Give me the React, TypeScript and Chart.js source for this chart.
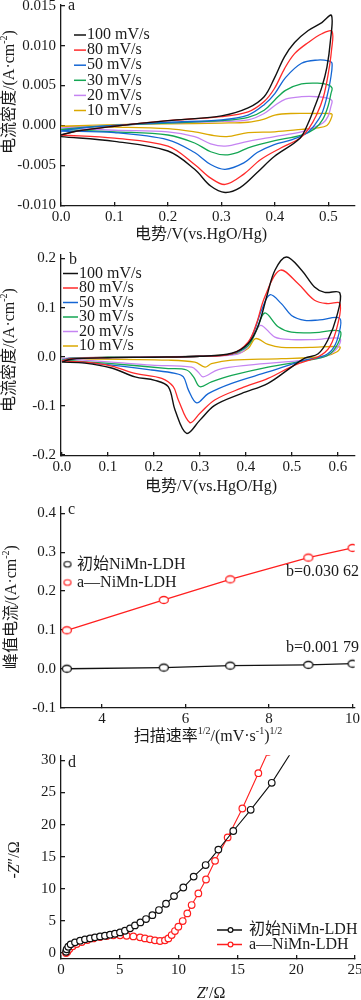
import React, { useEffect, useRef } from "react";
import { Chart, registerables } from "chart.js";
Chart.register(...registerables);

const FONT = '"Liberation Serif", "Times New Roman", "Noto Sans CJK SC", serif';
const INK = "#1a1a1a";

// ---------- Panel a : CV, initial NiMn-LDH ----------
const scanLabels = ["100 mV/s", "80 mV/s", "50 mV/s", "30 mV/s", "20 mV/s", "10 mV/s"];
const cvColors = ["#111111", "#ff2a2a", "#1466d4", "#14a653", "#c584f2", "#dba800"];

const cvA100 = [[0,-0.0012],[0.03,-0.0007],[0.1,-0.0001],[0.2,0.0006],[0.3,0.0012],[0.35,0.0022],[0.38,0.0036],[0.399,0.0059],[0.418,0.0086],[0.437,0.0104],[0.4625,0.0119],[0.488,0.0129],[0.506,0.0138],
  [0.504,0.0106],[0.4975,0.0073],[0.488,0.0048],[0.475,0.0024],[0.4625,0.0003],[0.447,-0.0016],[0.399,-0.0039],[0.367,-0.0059],[0.335,-0.0078],[0.307,-0.0084],[0.28,-0.0076],[0.25,-0.0055],[0.2,-0.0032],[0.1,-0.002],[0,-0.0014]];
const cvA80 = [[0,-0.0012],[0.03,-0.0007],[0.1,-0.0001],[0.2,0.0006],[0.3,0.0011],[0.35,0.0017],[0.38,0.003],[0.399,0.0046],[0.418,0.0071],[0.437,0.009],[0.4625,0.0104],[0.488,0.0115],[0.507,0.0118],
  [0.506,0.0094],[0.5,0.0065],[0.491,0.0036],[0.478,0.0013],[0.4625,-0.0005],[0.447,-0.0016],[0.412,-0.0028],[0.373,-0.0043],[0.342,-0.0061],[0.307,-0.0074],[0.28,-0.0066],[0.25,-0.0049],[0.2,-0.0026],[0.1,-0.0016],[0,-0.0012]];
const cvA50 = [[0,-0.0007],[0.03,-0.0004],[0.1,0.0],[0.2,0.0004],[0.3,0.0007],[0.35,0.0013],[0.38,0.0026],[0.4,0.004],[0.42,0.006],[0.45,0.0078],[0.48,0.0082],[0.5,0.0081],[0.507,0.0078],
  [0.504,0.0057],[0.4975,0.0036],[0.488,0.0015],[0.475,0.0001],[0.459,-0.001],[0.431,-0.0018],[0.399,-0.0024],[0.367,-0.0034],[0.342,-0.0047],[0.307,-0.0055],[0.28,-0.0049],[0.25,-0.0034],[0.2,-0.0018],[0.1,-0.0009],[0,-0.0007]];
const cvA30 = [[0,-0.0005],[0.03,-0.0003],[0.1,0.0],[0.2,0.0003],[0.3,0.0006],[0.35,0.001],[0.38,0.0019],[0.4,0.0032],[0.42,0.0044],[0.45,0.0052],[0.48,0.0053],[0.5,0.0051],[0.507,0.0047],
  [0.505,0.004],[0.5,0.0025],[0.49,0.0008],[0.475,-0.0004],[0.45,-0.0012],[0.4,-0.0019],[0.35,-0.0028],[0.33,-0.0034],[0.307,-0.0037],[0.28,-0.0033],[0.25,-0.0022],[0.2,-0.0012],[0.1,-0.0008],[0,-0.0005]];
const cvA20 = [[0,-0.0003],[0.1,0.0],[0.2,0.0003],[0.3,0.0005],[0.35,0.0007],[0.38,0.0015],[0.4,0.0025],[0.42,0.0033],[0.45,0.0036],[0.48,0.0036],[0.5,0.0034],[0.507,0.0031],
  [0.505,0.0024],[0.5,0.0012],[0.49,0.0003],[0.47,-0.0003],[0.45,-0.0008],[0.4,-0.0014],[0.35,-0.002],[0.307,-0.0026],[0.28,-0.0023],[0.25,-0.0014],[0.2,-0.0008],[0.1,-0.0006],[0,-0.0003]];
const cvA10 = [[0,-0.0001],[0.1,0.0001],[0.2,0.0002],[0.3,0.0003],[0.35,0.0004],[0.38,0.0008],[0.4,0.0013],[0.43,0.0015],[0.48,0.0015],[0.5,0.0015],[0.507,0.0014],
  [0.505,0.0008],[0.4975,0.0],[0.48,-0.0003],[0.45,-0.0005],[0.4,-0.0008],[0.35,-0.0009],[0.31,-0.0014],[0.28,-0.0012],[0.25,-0.0008],[0.2,-0.0004],[0.1,-0.0002],[0,-0.0001]];

// ---------- Panel b : CV, a-NiMn-LDH ----------
const cvB100 = [[0,-0.011],[0.02,-0.005],[0.1,-0.002],[0.2,-0.001],[0.3,0.001],[0.369,0.007],[0.405,0.027],[0.427,0.064],[0.445,0.122],[0.463,0.176],[0.488,0.203],[0.521,0.176],[0.549,0.142],[0.571,0.131],[0.604,0.13],
  [0.597,0.081],[0.578,0.034],[0.557,0.006],[0.528,-0.003],[0.499,-0.021],[0.448,-0.054],[0.39,-0.075],[0.332,-0.099],[0.3,-0.129],[0.271,-0.156],[0.246,-0.109],[0.231,-0.061],[0.202,-0.048],[0.159,-0.041],[0.108,-0.023],[0.05,-0.013],[0,-0.011]];
const cvB80 = [[0,-0.009],[0.02,-0.004],[0.1,-0.002],[0.2,-0.001],[0.3,0.001],[0.369,0.006],[0.405,0.03],[0.423,0.068],[0.441,0.122],[0.474,0.176],[0.513,0.149],[0.549,0.115],[0.578,0.108],[0.604,0.109],
  [0.6,0.068],[0.582,0.02],[0.557,0.0],[0.506,-0.017],[0.448,-0.044],[0.39,-0.064],[0.332,-0.088],[0.3,-0.115],[0.278,-0.134],[0.253,-0.088],[0.242,-0.061],[0.217,-0.044],[0.159,-0.034],[0.108,-0.019],[0.05,-0.011],[0,-0.009]];
const cvB50 = [[0,-0.008],[0.02,-0.004],[0.1,-0.002],[0.2,-0.001],[0.3,0.001],[0.37,0.006],[0.398,0.02],[0.416,0.048],[0.434,0.095],[0.452,0.126],[0.477,0.108],[0.499,0.084],[0.528,0.074],[0.56,0.075],[0.604,0.078],
  [0.6,0.04],[0.586,0.013],[0.564,0.0],[0.528,-0.007],[0.448,-0.031],[0.369,-0.054],[0.318,-0.075],[0.293,-0.094],[0.275,-0.068],[0.264,-0.041],[0.246,-0.034],[0.195,-0.027],[0.108,-0.017],[0,-0.008]];
const cvB30 = [[0,-0.007],[0.02,-0.003],[0.1,-0.001],[0.2,-0.001],[0.3,0.001],[0.37,0.006],[0.405,0.023],[0.423,0.054],[0.441,0.089],[0.47,0.061],[0.499,0.05],[0.55,0.049],[0.604,0.052],
  [0.6,0.027],[0.578,0.003],[0.535,-0.007],[0.448,-0.021],[0.369,-0.038],[0.325,-0.051],[0.3,-0.061],[0.286,-0.041],[0.271,-0.027],[0.231,-0.024],[0.108,-0.014],[0,-0.007]];
const cvB20 = [[0,-0.004],[0.02,-0.002],[0.1,-0.001],[0.2,0.0],[0.3,0.001],[0.38,0.005],[0.401,0.017],[0.416,0.04],[0.432,0.064],[0.463,0.04],[0.499,0.035],[0.55,0.035],[0.604,0.037],
  [0.598,0.017],[0.571,0.0],[0.528,-0.007],[0.405,-0.017],[0.34,-0.026],[0.307,-0.041],[0.296,-0.031],[0.282,-0.021],[0.195,-0.017],[0.108,-0.011],[0,-0.004]];
const cvB10 = [[0,-0.004],[0.1,-0.001],[0.2,0.0],[0.3,0.001],[0.383,0.007],[0.405,0.017],[0.421,0.037],[0.448,0.025],[0.477,0.019],[0.54,0.019],[0.604,0.02],
  [0.598,0.01],[0.571,0.001],[0.477,-0.004],[0.369,-0.007],[0.325,-0.014],[0.311,-0.021],[0.289,-0.011],[0.231,-0.007],[0,-0.004]];

// ---------- Panel c : peak current vs sqrt(scan rate) ----------
const sqrtRate = [3.16, 5.48, 7.07, 8.94, 10.0];
const peakInitial = [0.0, 0.003, 0.008, 0.010, 0.013];
const peakTreated = [0.099, 0.177, 0.230, 0.286, 0.311];
const seriesNames = ["初始NiMn-LDH", "a—NiMn-LDH"];
const slopeLabels = ["b=0.030 62", "b=0.001 79"];

// ---------- Panel d : Nyquist ----------
const zReInitial = [0.43,0.48,0.62,0.82,1.19,1.62,2.04,2.47,2.89,3.32,3.74,4.17,4.59,5.02,5.44,5.87,6.29,6.75,7.23,7.77,8.33,8.93,9.61,10.4,11.28,12.3,13.38,14.65,16.13,17.92,19.7];
const zImInitial = [0.2,0.57,0.98,1.35,1.66,1.92,2.13,2.28,2.44,2.59,2.69,2.85,3.0,3.21,3.47,3.84,4.3,4.77,5.29,5.9,6.69,7.67,8.86,10.2,11.9,13.7,16.1,19.0,22.3,26.5,31.6];
const zReTreated = [0.43,0.54,0.71,0.99,1.33,1.76,2.24,2.75,3.32,3.89,4.45,5.02,5.58,6.15,6.72,7.14,7.57,7.99,8.42,8.84,9.13,9.41,9.69,9.98,10.35,10.74,11.11,11.68,12.33,13.1,14.17,15.42,16.78,17.6];
const zImTreated = [0.0,0.2,0.62,1.04,1.4,1.71,2.02,2.28,2.49,2.64,2.75,2.75,2.69,2.59,2.44,2.28,2.13,1.97,1.87,1.97,2.28,2.8,3.42,4.1,4.98,6.17,7.47,9.28,11.45,14.35,18.0,22.5,28.0,31.3];

// ---------- ticks ----------
const ticksAx = [0, 0.1, 0.2, 0.3, 0.4, 0.5];
const ticksAy = [-0.01, -0.005, 0, 0.005, 0.01, 0.015];
const ticksBx = [0, 0.1, 0.2, 0.3, 0.4, 0.5, 0.6];
const ticksBy = [-0.2, -0.1, 0, 0.1, 0.2];
const ticksCx = [4, 6, 8, 10];
const ticksCy = [-0.1, 0, 0.1, 0.2, 0.3, 0.4];
const ticksDx = [0, 5, 10, 15, 20, 25];
const ticksDy = [0, 5, 10, 15, 20, 25, 30];

type Seg = { t: string; sup?: boolean; it?: boolean };

function segFont(s: Seg, size: number) {
  return `${s.it ? "italic " : ""}${s.sup ? Math.round(size * 0.6) : size}px ${FONT}`;
}

function drawRich(ctx: CanvasRenderingContext2D, segs: Seg[], x: number, y: number, size: number,
  align: "left" | "center" | "right" = "center", rotate = false, color = INK) {
  ctx.save();
  ctx.fillStyle = color;
  ctx.textBaseline = "middle";
  ctx.textAlign = "left";
  const widths = segs.map((s) => { ctx.font = segFont(s, size); return ctx.measureText(s.t).width; });
  const total = widths.reduce((a, b) => a + b, 0);
  ctx.translate(x, y);
  if (rotate) ctx.rotate(-Math.PI / 2);
  let cx = align === "center" ? -total / 2 : align === "right" ? -total : 0;
  segs.forEach((s, i) => {
    ctx.font = segFont(s, size);
    ctx.fillText(s.t, cx, s.sup ? -size * 0.33 : 0);
    cx += widths[i];
  });
  ctx.restore();
}

function ellipseStyle(w: number, h: number, color: string, lw: number) {
  const c = document.createElement("canvas");
  c.width = Math.ceil(w + lw * 2 + 2);
  c.height = Math.ceil(h + lw * 2 + 2);
  const g = c.getContext("2d")!;
  g.beginPath();
  g.ellipse(c.width / 2, c.height / 2, w / 2, h / 2, 0, 0, Math.PI * 2);
  g.fillStyle = "#ffffff";
  g.fill();
  g.lineWidth = lw;
  g.strokeStyle = color;
  g.stroke();
  return c;
}

function axis(pos: "x" | "y", min: number, max: number, ticks: number[], dec: number, size: number) {
  return {
    type: "linear",
    position: pos === "x" ? "bottom" : "left",
    min,
    max,
    border: { display: true, color: INK, width: 1.3 },
    grid: { drawOnChartArea: false, drawTicks: true, tickLength: -4, color: INK, lineWidth: 1.3 },
    ticks: {
      color: INK,
      font: { family: FONT, size: 15 },
      padding: pos === "x" ? 6 : 9,
      autoSkip: false,
      maxRotation: 0,
      callback: (v: any) => Number(v).toFixed(dec),
    },
    afterBuildTicks: (s: any) => { s.ticks = ticks.map((v) => ({ value: v })); },
    afterFit: (s: any) => {
      if (pos === "x") s.height = size; else s.width = size;
      s.paddingTop = 0; s.paddingBottom = 0; s.paddingLeft = 0; s.paddingRight = 0;
    },
  };
}

const toPts = (arr: number[][]) => arr.map(([x, y]) => ({ x, y }));
const zip = (xs: number[], ys: number[]) => xs.map((x, i) => ({ x, y: ys[i] }));

function baseOptions(scales: any) {
  return {
    animation: false,
    responsive: false,
    devicePixelRatio: 1,
    events: [],
    layout: { padding: { top: 5, right: 6, left: 0, bottom: 0 } },
    plugins: { legend: { display: false }, tooltip: { enabled: false } },
    scales,
  };
}

const PANELS = [
  { top: 0, height: 248 },
  { top: 250, height: 250 },
  { top: 500, height: 250 },
  { top: 750, height: 250 },
];

export default function App() {
  const r0 = useRef<HTMLCanvasElement>(null);
  const r1 = useRef<HTMLCanvasElement>(null);
  const r2 = useRef<HTMLCanvasElement>(null);
  const r3 = useRef<HTMLCanvasElement>(null);

  useEffect(() => {
    const charts: Chart[] = [];
    const cvDataset = (label: string, data: number[][], color: string, i: number) => ({
      label,
      data: toPts(data),
      borderColor: color,
      backgroundColor: color,
      borderWidth: i === 0 ? 1.4 : 1.3,
      pointRadius: 0,
      showLine: true,
      tension: 0.35,
    });

    const cvLegend = (ctx: CanvasRenderingContext2D, chart: any, x0: number, x1: number, xt: number, y0: number, dy: number) => {
      chart.data.datasets.forEach((d: any, i: number) => {
        const y = y0 + i * dy;
        ctx.save();
        ctx.strokeStyle = d.borderColor;
        ctx.lineWidth = 1.5;
        ctx.beginPath(); ctx.moveTo(x0, y); ctx.lineTo(x1, y); ctx.stroke();
        ctx.restore();
        drawRich(ctx, [{ t: d.label }], xt, y, 16, "left");
      });
    };

    // Panel a
    const dataA = [cvA100, cvA80, cvA50, cvA30, cvA20, cvA10];
    charts.push(new Chart(r0.current!, {
      type: "scatter",
      data: { datasets: dataA.map((d, i) => cvDataset(scanLabels[i], d, cvColors[i], i)) },
      options: baseOptions({
        x: axis("x", 0, 0.55, ticksAx, 1, 42),
        y: axis("y", -0.0101, 0.0151, ticksAy, 3, 61),
      }) as any,
      plugins: [{
        id: "ovA",
        afterDraw(chart: any) {
          const ctx = chart.ctx; const T = PANELS[0].top;
          drawRich(ctx, [{ t: "a" }], 68, 6 - T, 16, "left");
          cvLegend(ctx, chart, 74, 86, 87, 35 - T, 15.1);
          drawRich(ctx, [{ t: "电势/V(vs.HgO/Hg)" }], 201, 235 - T, 16);
          drawRich(ctx, [{ t: "电流密度/(A·cm" }, { t: "-2", sup: true }, { t: ")" }], 10, 92 - T, 16, "center", true);
        },
      }],
    }));

    // Panel b
    const dataB = [cvB100, cvB80, cvB50, cvB30, cvB20, cvB10];
    charts.push(new Chart(r1.current!, {
      type: "scatter",
      data: { datasets: dataB.map((d, i) => cvDataset(scanLabels[i], d, cvColors[i], i)) },
      options: baseOptions({
        x: axis("x", -0.002, 0.637, ticksBx, 1, 44),
        y: axis("y", -0.202, 0.207, ticksBy, 1, 61),
      }) as any,
      plugins: [{
        id: "ovB",
        afterDraw(chart: any) {
          const ctx = chart.ctx; const T = PANELS[1].top;
          drawRich(ctx, [{ t: "b" }], 69, 260 - T, 16, "left");
          cvLegend(ctx, chart, 63, 78, 79, 273.5 - T, 14.5);
          drawRich(ctx, [{ t: "电势/V(vs.HgO/Hg)" }], 211, 487 - T, 16);
          drawRich(ctx, [{ t: "电流密度/(A·cm" }, { t: "-2", sup: true }, { t: ")" }], 10, 350 - T, 16, "center", true);
        },
      }],
    }));

    // Panel c
    const ellBlack = ellipseStyle(9, 7, "#111111", 1.3);
    const ellRed = ellipseStyle(9, 7, "#ff1f1f", 1.3);
    const ellBlackS = ellipseStyle(7, 5.5, "#111111", 1.2);
    const ellRedS = ellipseStyle(7, 5.5, "#ff1f1f", 1.2);
    charts.push(new Chart(r2.current!, {
      type: "scatter",
      data: {
        datasets: [
          { label: seriesNames[0], data: zip(sqrtRate, peakInitial), borderColor: "#111111", backgroundColor: "#fff",
            borderWidth: 1.3, showLine: true, pointStyle: ellBlack as any, pointRadius: 5, tension: 0 },
          { label: seriesNames[1], data: zip(sqrtRate, peakTreated), borderColor: "#ff1f1f", backgroundColor: "#fff",
            borderWidth: 1.3, showLine: true, pointStyle: ellRed as any, pointRadius: 5, tension: 0 },
        ],
      },
      options: baseOptions({
        x: axis("x", 3.02, 10.05, ticksCx, 0, 42),
        y: axis("y", -0.101, 0.418, ticksCy, 1, 61),
      }) as any,
      plugins: [{
        id: "ovC",
        afterDraw(chart: any) {
          const ctx = chart.ctx; const T = PANELS[2].top;
          drawRich(ctx, [{ t: "c" }], 68, 510 - T, 16, "left");
          const ds = chart.data.datasets;
          [ellBlackS, ellRedS].forEach((img, i) => {
            const y = (i === 0 ? 564.3 : 582.5) - T;
            ctx.drawImage(img, 67.5 - img.width / 2, y - img.height / 2);
            drawRich(ctx, [{ t: ds[i].label }], 77, y, 16, "left");
          });
          drawRich(ctx, [{ t: slopeLabels[0] }], 359, 572 - T, 16, "right");
          drawRich(ctx, [{ t: slopeLabels[1] }], 359, 648 - T, 16, "right");
          drawRich(ctx, [{ t: "扫描速率" }, { t: "1/2", sup: true }, { t: "/(mV·s" }, { t: "-1", sup: true }, { t: ")" }, { t: "1/2", sup: true }], 208, 737 - T, 16);
          drawRich(ctx, [{ t: "峰值电流/(A·cm" }, { t: "-2", sup: true }, { t: ")" }], 12, 607 - T, 16, "center", true);
        },
      }],
    }));

    // Panel d
    charts.push(new Chart(r3.current!, {
      type: "scatter",
      data: {
        datasets: [
          { label: seriesNames[0], data: zip(zReInitial, zImInitial), borderColor: "#111111", backgroundColor: "#fff",
            borderWidth: 1.1, showLine: true, pointStyle: "circle", pointRadius: 3.3, pointBorderWidth: 1.2, tension: 0 },
          { label: seriesNames[1], data: zip(zReTreated, zImTreated), borderColor: "#ff1f1f", backgroundColor: "#fff",
            borderWidth: 1.1, showLine: true, pointStyle: "circle", pointRadius: 3.3, pointBorderWidth: 1.2, tension: 0 },
        ],
      },
      options: baseOptions({
        x: axis("x", 0, 25, ticksDx, 0, 41),
        y: axis("y", -0.93, 30.8, ticksDy, 0, 61),
      }) as any,
      plugins: [{
        id: "ovD",
        afterDraw(chart: any) {
          const ctx = chart.ctx; const T = PANELS[3].top;
          drawRich(ctx, [{ t: "d" }], 68, 763 - T, 16, "left");
          chart.data.datasets.forEach((d: any, i: number) => {
            const y = (i === 0 ? 930 : 944.5) - T;
            ctx.save();
            ctx.strokeStyle = d.borderColor; ctx.lineWidth = 1.5;
            ctx.beginPath(); ctx.moveTo(217, y); ctx.lineTo(242, y); ctx.stroke();
            ctx.beginPath(); ctx.arc(230.5, y, 2.4, 0, Math.PI * 2);
            ctx.fillStyle = "#fff"; ctx.fill(); ctx.lineWidth = 1.2; ctx.stroke();
            ctx.restore();
            drawRich(ctx, [{ t: d.label }], 249, y, 16, "left");
          });
          drawRich(ctx, [{ t: "Z", it: true }, { t: "′/Ω" }], 211, 994 - T, 16);
          drawRich(ctx, [{ t: "-" }, { t: "Z", it: true }, { t: "″/Ω" }], 15, 860 - T, 16, "center", true);
        },
      }],
    }));

    return () => charts.forEach((c) => c.destroy());
  }, []);

  const refs = [r0, r1, r2, r3];
  return (
    <div style={{ position: "absolute", left: 0, top: 0, width: 361, height: 1000, overflow: "hidden", background: "#fff" }}>
      {PANELS.map((p, i) => (
        <canvas key={i} ref={refs[i]} width={361} height={p.height}
          style={{ position: "absolute", left: 0, top: p.top, width: 361, height: p.height, display: "block" }} />
      ))}
    </div>
  );
}
